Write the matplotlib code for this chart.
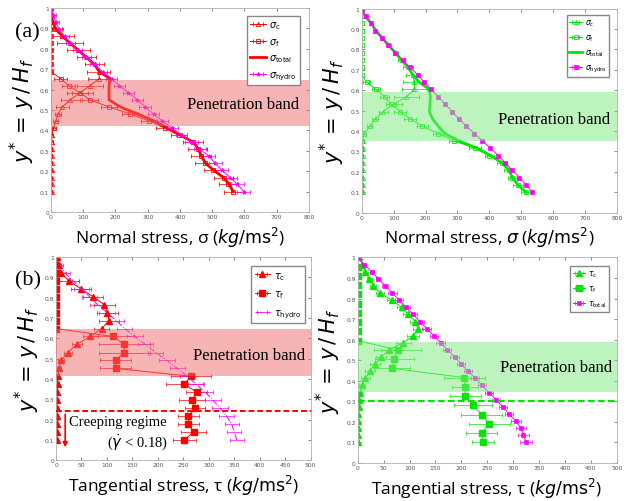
import numpy as np
import matplotlib.pyplot as plt

plt.rcParams['mathtext.fontset'] = 'dejavusans'

# ---------- (a) left : normal stress, red ----------
y_tl = [0.100, 0.135, 0.169, 0.204, 0.238, 0.273, 0.308, 0.342, 0.377, 0.412, 0.446, 0.481, 0.515, 0.550,
        0.585, 0.619, 0.654, 0.688, 0.723, 0.758, 0.792, 0.827, 0.862, 0.896, 0.931, 0.965, 1.000]
sig_c_tl = [2, 2, 2, 2, 2, 2, 2, 2, 3, 8, 15, 22, 35, 60, 90, 120, 150, 148, 135, 110, 85, 60, 35, 15, 5, 2, 0]
sig_c_tl_err = [2, 2, 2, 2, 2, 2, 2, 3, 4, 6, 8, 10, 20, 30, 40, 40, 35, 35, 30, 30, 35, 40, 35, 20, 10, 4, 0]
sig_f_tl = [565, 550, 535, 503, 478, 465, 455, 440, 398, 352, 305, 245, 180, 120, 90, 55, 30, 0, 0, 0, 0, 0, 0, 0, 0, 0, 0]
sig_f_tl_err = [30, 30, 30, 30, 30, 30, 30, 30, 25, 25, 25, 25, 25, 25, 25, 20, 20, 2, 2, 2, 2, 2, 2, 2, 2, 2, 0]
sig_tot_tl = [565, 553, 535, 505, 480, 467, 457, 442, 400, 360, 320, 268, 215, 180, 180, 180, 183, 150, 135, 110,
              85, 60, 35, 15, 5, 2, 0]
sig_hyd_tl = [598, 578, 556, 530, 510, 490, 462, 435, 405, 375, 345, 318, 292, 268, 240, 212, 188, 160, 135, 110,
              82, 60, 42, 25, 15, 6, 0]
sig_hyd_tl_err = [20, 20, 20, 20, 20, 20, 20, 20, 18, 18, 18, 18, 18, 18, 18, 18, 18, 15, 15, 15, 15, 15, 15, 12, 10, 8, 0]
band_tl = (0.42, 0.645)

# ---------- (a) right : normal stress, green ----------
y_tr = [0.100, 0.136, 0.172, 0.208, 0.244, 0.280, 0.316, 0.352, 0.388, 0.424, 0.460, 0.496, 0.532,
        0.568, 0.604, 0.640, 0.676, 0.712, 0.748, 0.784, 0.820, 0.856, 0.892, 0.928, 0.964, 1.000]
sig_c_tr = [3, 3, 3, 3, 3, 3, 3, 3, 8, 25, 42, 68, 100, 140, 165, 165, 160, 145, 125, 105, 85, 65, 45, 30, 10, 0]
sig_c_tr_err = [2, 2, 2, 2, 2, 2, 2, 3, 5, 8, 10, 15, 25, 40, 40, 35, 20, 15, 10, 8, 6, 5, 4, 3, 2, 0]
sig_f_tr = [515, 490, 472, 460, 440, 400, 355, 290, 240, 190, 152, 120, 92, 72, 45, 15, 0, 0, 0, 0, 0, 0, 0, 0, 0, 0]
sig_f_tr_err = [15, 15, 15, 15, 15, 15, 18, 18, 18, 18, 18, 18, 15, 15, 12, 10, 2, 2, 2, 2, 2, 2, 2, 2, 2, 0]
sig_tot_tr = [515, 490, 472, 462, 440, 405, 360, 305, 260, 240, 222, 212, 214, 215, 212, 180, 160, 145, 125, 105,
              85, 65, 45, 30, 10, 0]
sig_hyd_tr = [535, 515, 494, 472, 450, 428, 403, 378, 353, 328, 305, 283, 262, 240, 218, 195, 175, 152, 128, 105,
              82, 62, 42, 30, 12, 0]
band_tr = (0.35, 0.59)

# ---------- (b) left : tangential stress, red ----------
y_bl = [0.100, 0.139, 0.178, 0.217, 0.257, 0.296, 0.335, 0.374, 0.413, 0.452, 0.491, 0.530, 0.570, 0.609,
        0.648, 0.687, 0.726, 0.765, 0.804, 0.843, 0.883, 0.922, 0.961, 1.000]
tau_c_bl = [2, 2, 2, 2, 2, 2, 2, 3, 3, 6, 10, 23, 41, 67, 90, 104, 101, 95, 73, 49, 25, 10, 5, 2]
tau_c_bl_err = [2, 2, 2, 2, 2, 2, 2, 2, 3, 4, 6, 8, 10, 15, 15, 20, 20, 20, 20, 20, 20, 10, 5, 2]
tau_f_bl = [252, 270, 260, 260, 273, 267, 276, 252, 265, 117, 117, 134, 134, 111, 0, 0, 0, 0, 0, 0, 0, 0, 0, 0]
tau_f_bl_err = [22, 25, 20, 20, 20, 25, 20, 37, 40, 30, 30, 50, 50, 42, 2, 2, 2, 2, 2, 2, 2, 2, 2, 2]
tau_hyd_bl = [355, 350, 345, 335, 322, 308, 293, 275, 258, 238, 218, 196, 175, 155, 135, 118, 100, 82, 66, 50,
              33, 18, 8, 0]
tau_hyd_bl_err = [14, 14, 14, 15, 15, 15, 15, 15, 15, 15, 15, 15, 15, 15, 15, 15, 15, 15, 15, 15, 12, 10, 6, 0]
band_bl = (0.415, 0.645)
creep_bl = 0.24

# ---------- (b) right : tangential stress, green ----------
y_br = [0.100, 0.135, 0.169, 0.204, 0.238, 0.273, 0.308, 0.342, 0.377, 0.412, 0.446, 0.481, 0.515, 0.550,
        0.585, 0.619, 0.654, 0.688, 0.723, 0.758, 0.792, 0.827, 0.862, 0.896, 0.931, 0.965, 1.000]
tau_c_br = [1, 1, 1, 1, 1, 2, 3, 5, 8, 15, 24, 33, 45, 60, 88, 107, 116, 111, 98, 85, 66, 43, 30, 22, 15, 9, 3]
tau_c_br_err = [1, 1, 1, 1, 1, 2, 3, 4, 6, 8, 10, 10, 10, 15, 15, 12, 10, 10, 10, 10, 10, 8, 6, 5, 4, 3, 2]
y_br_f = [0.100, 0.145, 0.190, 0.235, 0.280, 0.325, 0.370, 0.415, 0.460, 0.505, 0.550, 0.595, 0.640, 0.685,
          0.730, 0.775, 0.820, 0.865, 0.910, 0.955, 1.000]
tau_f_br = [242, 239, 254, 239, 223, 208, 207, 206, 66, 71, 77, 0, 0, 0, 0, 0, 0, 0, 0, 0, 0]
tau_f_br_err = [22, 30, 40, 40, 37, 30, 25, 40, 35, 38, 45, 2, 2, 2, 2, 2, 2, 2, 2, 2, 2]
tau_tot_br = [325, 320, 315, 305, 292, 280, 267, 253, 240, 227, 213, 200, 187, 173, 160, 147, 133, 120, 107, 93,
              80, 67, 53, 40, 27, 13, 0]
tau_tot_br_err = [12, 10, 10, 10, 8, 8, 8, 8, 8, 8, 8, 8, 8, 8, 8, 8, 8, 8, 8, 8, 8, 8, 6, 5, 4, 3, 0]
band_br = (0.345, 0.59)
creep_br = 0.30

RED = '#ff0000'
GREEN = '#00e600'
MAG = '#ff00ff'
BAND_RED = '#f06a6a'
BAND_GREEN = '#7cea7c'

fig = plt.figure(figsize=(6.28, 5.02), dpi=100)
ax_tl = fig.add_axes([0.0812, 0.5757, 0.4108, 0.4064])
ax_tr = fig.add_axes([0.5760, 0.5743, 0.4065, 0.4064])
ax_bl = fig.add_axes([0.0892, 0.0811, 0.4055, 0.4050])
ax_br = fig.add_axes([0.5696, 0.0761, 0.4124, 0.4090])


def style(ax, xmax, xstep, xlabel):
    ax.set_xlim(0, xmax)
    ax.set_ylim(0, 1)
    ax.set_xticks(np.arange(0, xmax + 1, xstep))
    ax.set_yticks(np.arange(0, 1.01, 0.1))
    ax.set_yticklabels(['0'] + ['%.1f' % v for v in np.arange(0.1, 0.95, 0.1)] + ['1'])
    ax.tick_params(direction='in', length=2.5, width=0.5, labelsize=4.3, colors='#555555',
                   top=True, right=True, pad=1.5)
    for s in ax.spines.values():
        s.set_color('#b0b0b0')
        s.set_linewidth(0.6)
    ax.set_xlabel(xlabel, fontsize=12.5, family='Open Sans', labelpad=4)
    ax.set_ylabel(r'$y^{*}\,=\,y\,/\,H_f$', fontsize=15, labelpad=2)


def band(ax, lim, color, xr, y):
    ax.axhspan(lim[0], lim[1], color=color, alpha=0.5, lw=0, zorder=5)
    ax.text(xr, y, 'Penetration band', ha='right', va='center', fontsize=12,
            family='Liberation Serif', zorder=6)


def legend(ax, handles, labels, anchor, size, spacing):
    leg = ax.legend(handles, labels, loc='upper right', bbox_to_anchor=anchor, fontsize=size,
                    handlelength=1.6, fancybox=False, edgecolor='#888888', framealpha=1,
                    borderpad=0.35, labelspacing=spacing, handletextpad=0.4)
    leg.set_zorder(10)


eb = dict(capsize=1.3, elinewidth=0.5, capthick=0.5, lw=0.7)

# (a) left
ax = ax_tl
h1 = ax.errorbar(sig_c_tl, y_tl, xerr=sig_c_tl_err, fmt='-^', color=RED, ms=3, mfc='none', mew=0.6, **eb)
h2 = ax.errorbar(sig_f_tl, y_tl, xerr=sig_f_tl_err, fmt='-s', color=RED, ms=2.6, mfc='none', mew=0.6, **eb)
h3, = ax.plot(sig_tot_tl, y_tl, '-', color=RED, lw=2)
h4 = ax.errorbar(sig_hyd_tl, y_tl, xerr=sig_hyd_tl_err, fmt='-*', color=MAG, ms=3, mew=0.6, **eb)
band(ax, band_tl, BAND_RED, 768, 0.53)
style(ax, 800, 100, r'Normal stress, σ ($kg/\mathrm{ms}^2$)')
legend(ax, [h1, h2, h3, h4], [r'$\sigma_\mathrm{c}$', r'$\sigma_\mathrm{f}$', r'$\sigma_\mathrm{total}$',
                              r'$\sigma_\mathrm{hydro}$'], (0.985, 0.985), 7, 0.5)
fig.text(0.024, 0.934, '(a)', fontsize=16, family='Liberation Serif', va='center')

# (a) right
ax = ax_tr
h1 = ax.errorbar(sig_c_tr, y_tr, xerr=sig_c_tr_err, fmt='-^', color=GREEN, ms=3, mfc='none', mew=0.6, **eb)
h2 = ax.errorbar(sig_f_tr, y_tr, xerr=sig_f_tr_err, fmt='-s', color=GREEN, ms=2.6, mfc='none', mew=0.6, **eb)
h3, = ax.plot(sig_tot_tr, y_tr, '-', color=GREEN, lw=2)
h4 = ax.errorbar(sig_hyd_tr, y_tr, xerr=3, fmt='-s', color=MAG, ms=3, mew=0.5, **eb)
band(ax, band_tr, BAND_GREEN, 778, 0.46)
style(ax, 800, 100, r'Normal stress, $\sigma$ ($kg/\mathrm{ms}^2$)')
legend(ax, [h1, h2, h3, h4], [r'$\sigma_\mathrm{c}$', r'$\sigma_\mathrm{f}$', r'$\sigma_\mathrm{total}$',
                              r'$\sigma_\mathrm{hydro}$'], (0.985, 0.99), 5.5, 0.6)

# (b) left
ax = ax_bl
h1 = ax.errorbar(tau_c_bl, y_bl, xerr=tau_c_bl_err, fmt='-^', color=RED, ms=4.5, **eb)
h2 = ax.errorbar(tau_f_bl, y_bl, xerr=tau_f_bl_err, fmt='-s', color=RED, ms=3.8, **eb)
h3 = ax.errorbar(tau_hyd_bl, y_bl, xerr=tau_hyd_bl_err, fmt='-.', color=MAG, ms=3.5, **eb)
band(ax, band_bl, BAND_RED, 489, 0.52)
ax.axhline(creep_bl, color=RED, ls='--', lw=1.4, dashes=(3, 1.5), zorder=7)
ax.annotate('', xy=(18, 0.05), xytext=(18, creep_bl),
            arrowprops=dict(arrowstyle='-|>', color=RED, lw=1.2, mutation_scale=7), zorder=7)
ax.text(218, 0.19, 'Creeping regime', ha='right', va='center', fontsize=10.5, family='Liberation Serif')
ax.text(220, 0.09, r'($\dot{\gamma}$ < 0.18)', ha='right', va='center', fontsize=10.5,
        family='Liberation Serif')
style(ax, 500, 50, r'Tangential stress, τ ($kg/\mathrm{ms}^2$)')
legend(ax, [h1, h2, h3], [r'$\tau_\mathrm{c}$', r'$\tau_\mathrm{f}$', r'$\tau_\mathrm{hydro}$'],
       (0.995, 0.978), 7, 0.7)
fig.text(0.024, 0.440, '(b)', fontsize=16, family='Liberation Serif', va='center')

# (b) right
ax = ax_br
h1 = ax.errorbar(tau_c_br, y_br, xerr=tau_c_br_err, fmt='-^', color=GREEN, ms=4.5, **eb)
h2 = ax.errorbar(tau_f_br, y_br_f, xerr=tau_f_br_err, fmt='-s', color=GREEN, ms=3.8, **eb)
h3 = ax.errorbar(tau_tot_br, y_br, xerr=tau_tot_br_err, fmt='-s', color=MAG, ms=3, mew=0.5, **eb)
band(ax, band_br, BAND_GREEN, 491, 0.467)
ax.axhline(creep_br, color=GREEN, ls='--', lw=1.6, dashes=(3, 1.5), zorder=7)
style(ax, 500, 50, r'Tangential stress, τ ($kg/\mathrm{ms}^2$)')
legend(ax, [h1, h2, h3], [r'$\tau_\mathrm{c}$', r'$\tau_\mathrm{f}$', r'$\tau_\mathrm{total}$'],
       (0.986, 0.978), 5.5, 0.6)

fig.savefig('out.png', dpi=100)
